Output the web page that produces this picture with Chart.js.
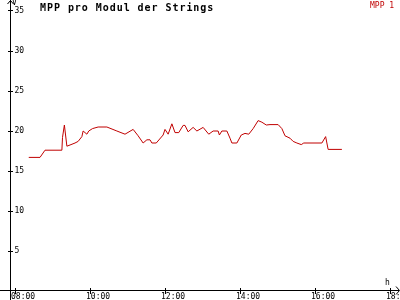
<!DOCTYPE html>
<html>
<head>
<meta charset="utf-8">
<script src="https://cdn.jsdelivr.net/npm/chart.js@4/dist/chart.umd.min.js"></script>
<style>
  html, body { margin: 0; padding: 0; background: #ffffff; }
  canvas { display: block; }
</style>
</head>
<body>
<canvas id="c" width="400" height="300"></canvas>
<script>
// ---- data ----
const times = ["08:22","08:40","08:48","09:15","09:16","09:19","09:23","09:28","09:36","09:41",
  "09:47","09:49","09:55","09:58","10:04","10:13","10:27","10:43","10:56","11:09",
  "11:17","11:25","11:31","11:36","11:39","11:46","11:57","12:00","12:05","12:11",
  "12:16","12:22","12:29","12:32","12:37","12:45","12:51","13:01","13:10","13:17",
  "13:25","13:27","13:31","13:39","13:44","13:47","13:55","14:02","14:08","14:14",
  "14:21","14:29","14:35","14:42","14:48","15:01","15:07","15:12","15:20","15:25",
  "15:31","15:38","15:42","16:11","16:17","16:21","16:43"];
const mpp1 = [16.7,16.7,17.6,17.6,19.2,20.75,18.1,18.25,18.5,18.7,
  19.3,20.0,19.6,20.0,20.3,20.5,20.5,20.0,19.6,20.2,
  19.4,18.5,18.9,18.9,18.5,18.5,19.5,20.2,19.6,20.9,
  19.8,19.8,20.7,20.7,19.9,20.45,20.0,20.45,19.6,20.0,
  20.0,19.5,20.0,20.0,19.1,18.5,18.5,19.5,19.7,19.6,
  20.3,21.3,21.1,20.75,20.8,20.8,20.3,19.4,19.1,18.7,
  18.5,18.3,18.5,18.5,19.3,17.7,17.7];
const yTicks = [5, 10, 15, 20, 25, 30, 35];
const xTicks = [8, 10, 12, 14, 16, 18];
const xTickLabels = ["08:00", "10:00", "12:00", "14:00", "16:00", "18:00"];
const titleText = "MPP pro Modul der Strings";
const seriesName = "MPP 1";
const yUnit = "V";
const xUnit = "h";

const toHours = s => { const [h, m] = s.split(":").map(Number); return h + m / 60; };
const points = times.map((t, i) => ({ x: toHours(t), y: mpp1[i] }));

const mono = '"DejaVu Sans Mono", "Liberation Mono", monospace';
const red = '#c00000';

const decor = {
  id: 'decor',
  afterDraw(chart) {
    const ctx = chart.ctx;
    const xs = chart.scales.x, ys = chart.scales.y;
    const ax = Math.floor(xs.getPixelForValue(xs.min)) + 0.5;
    const ay = Math.floor(ys.getPixelForValue(0)) - 0.5;
    ctx.save();
    ctx.strokeStyle = '#000';
    ctx.fillStyle = '#000';
    ctx.lineWidth = 1;
    // axes
    ctx.beginPath();
    ctx.moveTo(ax, 0); ctx.lineTo(ax, 300);
    ctx.moveTo(0, ay); ctx.lineTo(399, ay);
    // arrows
    ctx.moveTo(ax - 3, 4); ctx.lineTo(ax, 0.5); ctx.lineTo(ax + 3, 4);
    ctx.moveTo(396, ay - 4); ctx.lineTo(399.5, ay); ctx.lineTo(396, ay + 4);
    // y ticks
    yTicks.forEach(v => {
      const py = Math.floor(ys.getPixelForValue(v)) + 0.5;
      ctx.moveTo(ax - 2.5, py); ctx.lineTo(ax + 2.5, py);
    });
    // x ticks
    xTicks.forEach(v => {
      const px = Math.floor(xs.getPixelForValue(v)) + 0.5;
      ctx.moveTo(px, ay - 2.5); ctx.lineTo(px, ay + 3.5);
    });
    ctx.stroke();

    ctx.font = '8px ' + mono;
    ctx.textBaseline = 'middle';
    ctx.textAlign = 'left';
    yTicks.forEach(v => {
      ctx.fillText(String(v), ax + 4, ys.getPixelForValue(v));
    });
    ctx.textBaseline = 'alphabetic';
    xTicks.forEach((v, i) => {
      ctx.fillText(xTickLabels[i], xs.getPixelForValue(v) - 4, 299);
    });
    ctx.fillText(xUnit, 385, 285);
    ctx.fillText(yUnit, ax + 1.5, 5);

    // title
    ctx.font = 'bold 10px ' + mono;
    if ('letterSpacing' in ctx) ctx.letterSpacing = '0.95px';
    ctx.fillText(titleText, 40, 11);
    if ('letterSpacing' in ctx) ctx.letterSpacing = '0px';

    // legend
    ctx.font = '8px ' + mono;
    ctx.fillStyle = red;
    ctx.fillText(seriesName, 370, 8);
    ctx.restore();
  }
};

new Chart(document.getElementById('c'), {
  type: 'line',
  data: {
    datasets: [{
      label: seriesName,
      data: points,
      borderColor: red,
      backgroundColor: red,
      borderWidth: 1,
      pointRadius: 0,
      tension: 0,
      fill: false
    }]
  },
  options: {
    responsive: false,
    devicePixelRatio: 1,
    animation: false,
    layout: { padding: { left: 10, right: 0, top: 0, bottom: 9 } },
    scales: {
      x: { type: 'linear', min: 8 - 5 / 37.5, max: 8 + 385 / 37.5, display: false },
      y: { type: 'linear', min: 0, max: 291 / 8, display: false }
    },
    plugins: {
      legend: { display: false },
      title: { display: false },
      tooltip: { enabled: false }
    }
  },
  plugins: [decor]
});
</script>
</body>
</html>
